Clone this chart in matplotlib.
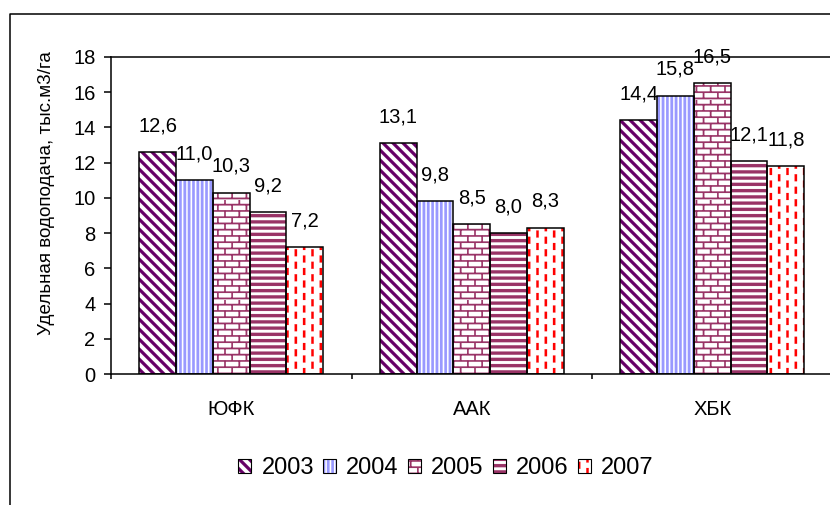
import warnings
import numpy as np
import matplotlib
matplotlib.use('Agg')
import matplotlib.pyplot as plt
from matplotlib import hatch as mhatch
from matplotlib.path import Path
from matplotlib.patches import Patch
from matplotlib.lines import Line2D

warnings.filterwarnings('ignore')

regions = ['ЮФК', 'ААК', 'ХБК']
years = ['2003', '2004', '2005', '2006', '2007']
v2003 = [12.6, 13.1, 14.4]
v2004 = [11.0, 9.8, 15.8]
v2005 = [10.3, 8.5, 16.5]
v2006 = [9.2, 8.0, 12.1]
v2007 = [7.2, 8.3, 11.8]
series = [v2003, v2004, v2005, v2006, v2007]

# hatch fills: diagonal, vertical, brick, horizontal, dashes
hatches = ['w', 'v', 'b', 'h', 'd']
hcolors = ['#660066', '#9999ff', '#993366', '#993366', '#ff0000']


def rect(x0, y0, x1, y1):
    return [(x0, y0), (x1, y0), (x1, y1), (x0, y1), (x0, y0)]


def make_polys(ch):
    # shapes inside one hatch tile (1x1), filled by Agg
    polys = []
    if ch == 'w':
        n, t = 10, 0.022
        for k in range(-1, 2 * n + 2):
            c = k / n
            polys.append([(c - t - 1, 1), (c + t - 1, 1), (c + t, 0),
                          (c - t, 0), (c - t - 1, 1)])
    elif ch == 'v':
        n, t = 23, 0.013
        for i in range(n):
            x = (i + 0.5) / n
            polys.append(rect(x - t, -0.1, x + t, 1.1))
    elif ch == 'h':
        n, t = 16, 0.016
        for i in range(n):
            y = (i + 0.5) / n
            polys.append(rect(-0.1, y - t, 1.1, y + t))
    elif ch == 'b':
        rows, cols, t = 16, 7, 0.008
        for i in range(rows):
            y0 = (i + 0.25) / rows
            polys.append(rect(-0.1, y0 - t, 1.1, y0 + t))
            for j in range(-1, cols + 1):
                x = (j + 0.5 * (i % 2) + 0.25) / cols
                polys.append(rect(x - t, y0, x + t, y0 + 1 / rows))
    elif ch == 'd':
        cols, per, t, ln = 12, 8, 0.012, 0.07
        for j in range(cols):
            x = (j + 0.5) / cols
            off = 0.5 / per if j % 2 else 0.0
            for k in range(-1, per + 1):
                y = k / per + off
                polys.append(rect(x - t, y, x + t, y + ln))
    return polys


class ChartHatch(mhatch.HatchPatternBase):
    def __init__(self, hatch, density):
        self.polys = []
        for ch in sorted(set(hatch or '')):
            self.polys += make_polys(ch)
        self.num_vertices = 5 * len(self.polys)

    def set_vertices_and_codes(self, vertices, codes):
        vertices[:] = np.array(self.polys, float).reshape(-1, 2)
        c = np.full(self.num_vertices, Path.LINETO, dtype=Path.code_type)
        c[0::5] = Path.MOVETO
        c[4::5] = Path.CLOSEPOLY
        codes[:] = c


mhatch._hatch_types.append(ChartHatch)

plt.rcParams['font.family'] = ['Liberation Sans', 'DejaVu Sans']
plt.rcParams['hatch.linewidth'] = 0.1

fig = plt.figure(figsize=(8.3, 5.05), dpi=100)
ax = fig.add_axes([111 / 830, 131 / 505, 721.5 / 830, 317 / 505])

x = np.arange(len(regions))
w = 0.153
handles = []
for i, vals in enumerate(series):
    xs = x + (i - 2) * w
    ax.bar(xs, vals, w, color='white', edgecolor=hcolors[i], hatch=hatches[i],
           linewidth=0, zorder=2)
    ax.bar(xs, vals, w, fill=False, edgecolor='black', linewidth=1.1, zorder=3)
    for xi, v in zip(xs, vals):
        ax.annotate(f'{v:.1f}'.replace('.', ','), (xi, v), xytext=(0, 19),
                    textcoords='offset points', ha='center', va='center',
                    fontsize=14.5, zorder=4)
    handles.append((Patch(facecolor='white', edgecolor=hcolors[i], hatch=hatches[i], linewidth=0),
                    Patch(fill=False, edgecolor='black', linewidth=0.8)))

ax.set_xlim(-0.5, 2.5)
ax.set_ylim(0, 18)
ax.set_yticks(range(0, 19, 2))
ax.set_xticks([-0.5, 0.5, 1.5, 2.5])
ax.set_xticklabels([])
ax.set_xticks(x, minor=True)
ax.set_xticklabels(regions, minor=True)
ax.tick_params(axis='x', which='major', direction='out', length=3.6, width=1.1)
ax.tick_params(axis='x', which='minor', length=0, pad=19, labelsize=14.5)
ax.tick_params(axis='y', direction='out', length=4.7, width=1.1, pad=6.5, labelsize=14.5)

for s in ['left', 'top', 'bottom']:
    ax.spines[s].set_linewidth(1.1)
ax.spines['right'].set_visible(False)

ax.set_ylabel('Удельная водоподача, тыс.м3/га', fontsize=13.6)
ax.yaxis.set_label_coords(-0.0776, 0.571)

fig.legend(handles, years, loc='center', bbox_to_anchor=(446 / 830, 1 - 468 / 505),
           ncol=5, frameon=False, fontsize=17, handlelength=0.55, handleheight=0.55,
           handletextpad=0.42, columnspacing=0.4, borderaxespad=0)

# outer chart frame (only left and top edges are inside the picture)
fig.add_artist(Line2D([9.5 / 830, 9.5 / 830, 1.0], [0.0, 1 - 13.5 / 505, 1 - 13.5 / 505],
                      color='black', linewidth=1.1, transform=fig.transFigure))

fig.savefig('out.png', dpi=100)
